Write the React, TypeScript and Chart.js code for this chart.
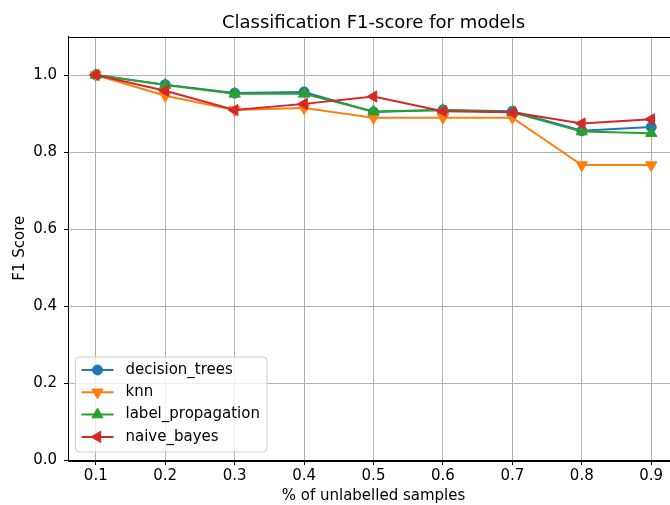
import React, { useEffect, useRef } from 'react';
import { Chart, registerables } from 'chart.js';
Chart.register(...registerables);

const X_VALUES = [0.1, 0.2, 0.3, 0.4, 0.5, 0.6, 0.7, 0.8, 0.9];
const DECISION_TREES = [1.0, 0.975, 0.953, 0.956, 0.904, 0.909, 0.906, 0.855, 0.865];
const KNN = [1.0, 0.946, 0.909, 0.914, 0.889, 0.889, 0.889, 0.766, 0.766];
const LABEL_PROPAGATION = [1.0, 0.974, 0.951, 0.951, 0.905, 0.909, 0.903, 0.853, 0.849];
const NAIVE_BAYES = [1.0, 0.959, 0.909, 0.925, 0.944, 0.906, 0.903, 0.874, 0.885];
const X_TICKS = [0.1, 0.2, 0.3, 0.4, 0.5, 0.6, 0.7, 0.8, 0.9];
const Y_TICKS = [0.0, 0.2, 0.4, 0.6, 0.8, 1.0];
const SERIES_NAMES = ['decision_trees', 'knn', 'label_propagation', 'naive_bayes'];
const SERIES_VALUES = [DECISION_TREES, KNN, LABEL_PROPAGATION, NAIVE_BAYES];
const TITLE = 'Classification F1-score for models';
const X_LABEL = '% of unlabelled samples';
const Y_LABEL = 'F1 Score';
const COLORS = ['#1f77b4', '#ff7f0e', '#2ca02c', '#d62728'];
const MARKERS = [
  { style: 'circle', rotation: 0, radius: 5 },
  { style: 'triangle', rotation: 180, radius: 6.5 },
  { style: 'triangle', rotation: 0, radius: 6.5 },
  { style: 'triangle', rotation: 270, radius: 6.5 },
];

const FONT = 'DejaVu Sans';

function drawMarker(ctx: CanvasRenderingContext2D, style: string, rotation: number, x: number, y: number, r: number) {
  ctx.beginPath();
  if (style === 'circle') {
    ctx.arc(x, y, r, 0, Math.PI * 2);
  } else {
    let rad = (rotation * Math.PI) / 180;
    for (let i = 0; i < 3; i++) {
      const px = x + Math.sin(rad) * r;
      const py = y - Math.cos(rad) * r;
      if (i === 0) ctx.moveTo(px, py);
      else ctx.lineTo(px, py);
      rad += (2 * Math.PI) / 3;
    }
    ctx.closePath();
  }
  ctx.fill();
  ctx.stroke();
}

const titlePlugin = {
  id: 'mplTitle',
  afterDraw(chart: any) {
    const { ctx, chartArea } = chart;
    ctx.save();
    ctx.font = `18px "${FONT}"`;
    ctx.fillStyle = '#000';
    ctx.textAlign = 'center';
    ctx.textBaseline = 'middle';
    ctx.fillText(TITLE, (chartArea.left + chartArea.right) / 2, 23.5);
    ctx.restore();
  },
};

const framePlugin = {
  id: 'mplFrame',
  afterDatasetsDraw(chart: any) {
    const { ctx, chartArea } = chart;
    ctx.save();
    ctx.strokeStyle = '#000';
    ctx.lineWidth = 1;
    ctx.strokeRect(
      Math.round(chartArea.left) + 0.5,
      Math.round(chartArea.top) + 0.5,
      Math.round(chartArea.right - chartArea.left),
      Math.round(chartArea.bottom - chartArea.top)
    );
    ctx.restore();
  },
};

const legendPlugin = {
  id: 'mplLegend',
  afterDraw(chart: any) {
    const { ctx, chartArea } = chart;
    const datasets = chart.data.datasets;
    ctx.save();
    ctx.font = `15px "${FONT}"`;
    const rowH = 22.3;
    const textW = Math.max(...datasets.map((d: any) => ctx.measureText(d.label).width));
    const boxX = chartArea.left + 7.5;
    const boxH = 95;
    const boxY = chartArea.bottom - 8 - boxH;
    const boxW = 50 + textW + 7;
    const rr = 4;
    ctx.beginPath();
    ctx.moveTo(boxX + rr, boxY);
    ctx.lineTo(boxX + boxW - rr, boxY);
    ctx.arcTo(boxX + boxW, boxY, boxX + boxW, boxY + rr, rr);
    ctx.lineTo(boxX + boxW, boxY + boxH - rr);
    ctx.arcTo(boxX + boxW, boxY + boxH, boxX + boxW - rr, boxY + boxH, rr);
    ctx.lineTo(boxX + rr, boxY + boxH);
    ctx.arcTo(boxX, boxY + boxH, boxX, boxY + boxH - rr, rr);
    ctx.lineTo(boxX, boxY + rr);
    ctx.arcTo(boxX, boxY, boxX + rr, boxY, rr);
    ctx.closePath();
    ctx.fillStyle = 'rgba(255,255,255,0.8)';
    ctx.fill();
    ctx.strokeStyle = '#cccccc';
    ctx.lineWidth = 1;
    ctx.stroke();
    datasets.forEach((d: any, i: number) => {
      const cy = boxY + 13 + i * rowH;
      const m = MARKERS[i];
      ctx.strokeStyle = d.borderColor;
      ctx.fillStyle = d.borderColor;
      ctx.lineWidth = 2;
      ctx.beginPath();
      ctx.moveTo(boxX + 6, cy);
      ctx.lineTo(boxX + 38, cy);
      ctx.stroke();
      ctx.lineWidth = 1;
      drawMarker(ctx, m.style, m.rotation, boxX + 22, cy, m.radius);
      ctx.fillStyle = '#000';
      ctx.textBaseline = 'middle';
      ctx.textAlign = 'left';
      ctx.fillText(d.label, boxX + 50, cy);
    });
    ctx.restore();
  },
};

export default function App() {
  const canvasRef = useRef<HTMLCanvasElement | null>(null);

  useEffect(() => {
    document.body.style.margin = '0';
    document.body.style.overflow = 'hidden';
    const canvas = canvasRef.current;
    if (!canvas) return;
    Chart.defaults.font.family = FONT;
    Chart.defaults.color = '#000';

    const datasets = SERIES_NAMES.map((name, i) => ({
      label: name,
      data: X_VALUES.map((x, j) => ({ x, y: SERIES_VALUES[i][j] })),
      borderColor: COLORS[i],
      backgroundColor: COLORS[i],
      pointBackgroundColor: COLORS[i],
      pointBorderColor: COLORS[i],
      pointStyle: MARKERS[i].style,
      pointRotation: MARKERS[i].rotation,
      pointRadius: MARKERS[i].radius,
      pointBorderWidth: 1,
      borderWidth: 2,
      tension: 0,
      fill: false,
      order: SERIES_NAMES.length - 1 - i,
    }));

    const chart = new Chart(canvas, {
      type: 'line',
      data: { datasets },
      plugins: [framePlugin, legendPlugin, titlePlugin],
      options: {
        animation: false,
        responsive: false,
        maintainAspectRatio: false,
        layout: { padding: { left: 0, right: 11, top: 36.5, bottom: 0 } },
        plugins: {
          legend: { display: false },
          tooltip: { enabled: false },
          title: { display: false },
        },
        scales: {
          x: {
            type: 'linear',
            min: 0.06,
            max: 0.94,
            afterBuildTicks: (scale: any) => {
              scale.ticks = X_TICKS.map((v) => ({ value: v }));
            },
            afterFit: (scale: any) => {
              scale.height = 45;
            },
            ticks: {
              color: '#000',
              font: { family: FONT, size: 15 },
              padding: 2.5,
              maxRotation: 0,
              autoSkip: false,
              callback: (v: any) => Number(v).toFixed(1),
            },
            grid: {
              color: '#b0b0b0',
              lineWidth: 1,
              drawTicks: true,
              tickLength: 5,
              tickColor: '#000',
            },
            border: { display: true, color: '#000', width: 1 },
            title: {
              display: true,
              text: X_LABEL,
              color: '#000',
              font: { family: FONT, size: 15, lineHeight: 1.2 },
              padding: { top: 0, bottom: 0 },
            },
          },
          y: {
            type: 'linear',
            min: 0,
            max: 1.1,
            afterBuildTicks: (scale: any) => {
              scale.ticks = Y_TICKS.map((v) => ({ value: v }));
            },
            afterFit: (scale: any) => {
              scale.width = 68;
            },
            ticks: {
              color: '#000',
              font: { family: FONT, size: 15 },
              padding: 7,
              autoSkip: false,
              callback: (v: any) => Number(v).toFixed(1),
            },
            grid: {
              color: '#b0b0b0',
              lineWidth: 1,
              drawTicks: true,
              tickLength: 4,
              tickColor: '#000',
            },
            border: { display: true, color: '#000', width: 1 },
            title: {
              display: true,
              text: Y_LABEL,
              color: '#000',
              font: { family: FONT, size: 15, lineHeight: 1.2 },
              padding: { top: 11.5, bottom: 0 },
            },
          },
        },
      },
    });
    return () => chart.destroy();
  }, []);

  return (
    <div style={{ position: 'fixed', left: 0, top: 0, width: 690, height: 505, background: '#fff' }}>
      <canvas ref={canvasRef} width={690} height={505} style={{ display: 'block', width: 690, height: 505 }} />
    </div>
  );
}
